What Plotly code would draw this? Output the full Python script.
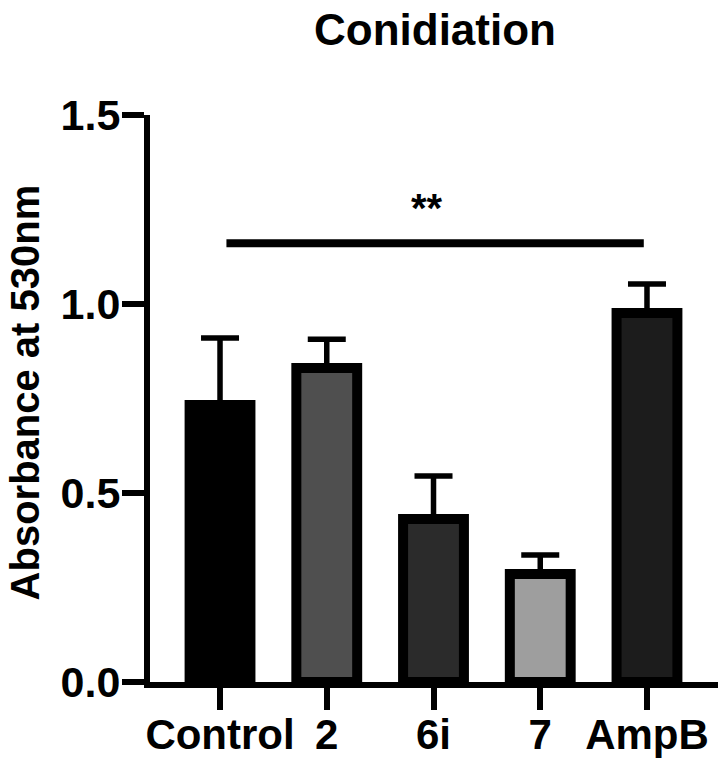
import plotly.graph_objects as go

categories = ["Control", "2", "6i", "7", "AmpB"]
means = [0.733, 0.831, 0.431, 0.286, 0.976]
errors = [0.177, 0.076, 0.114, 0.050, 0.077]
fill_colors = ["#000000", "#4f4f4f", "#2b2b2b", "#9e9e9e", "#1c1c1c"]
y_ticks = [0.0, 0.5, 1.0, 1.5]
y_tick_labels = ["0.0", "0.5", "1.0", "1.5"]
y_title = "Absorbance at 530nm"
sig_label = "**"
sig_level = 1.161

FONT = "Liberation Sans, Arial, sans-serif"

fig = go.Figure()
fig.add_trace(go.Bar(
    x=list(range(len(categories))),
    y=means,
    width=0.57,
    marker=dict(color=fill_colors, line=dict(color="#000000", width=10)),
    error_y=dict(type="data", array=errors, symmetric=False, arrayminus=[0]*len(errors),
                 color="#000000", thickness=5.5, width=19),
    showlegend=False,
))

# significance line
fig.add_shape(type="line", xref="x", yref="y", x0=0.06, x1=3.97, y0=sig_level, y1=sig_level,
              line=dict(color="#000000", width=8))
fig.add_annotation(x=1.94, y=sig_level + 0.094, xref="x", yref="y", text=sig_label,
                   showarrow=False, font=dict(family=FONT, size=40, color="#000000", weight="bold"),
                   yanchor="middle")

# y-axis title (as rotated text so it can sit close to the page edge)
fig.add_annotation(x=-0.2185, y=0.5115, xref="paper", yref="paper", text=y_title,
                   textangle=-90, showarrow=False, xanchor="center", yanchor="middle",
                   font=dict(family=FONT, size=40, color="#000000", weight="bold"))

# page body has an 8px default margin; figure sized to fill the remaining window
fig.update_layout(
    width=718, height=759,
    margin=dict(l=142, r=6, t=107, b=85, autoexpand=False),
    paper_bgcolor="white", plot_bgcolor="white",
    title=dict(text="Conidiation", x=0.5947, xanchor="center", y=0.972, yanchor="middle",
               font=dict(family=FONT, size=44, color="#000000", weight="bold")),
    bargap=0.4,
)
fig.update_xaxes(
    range=[-0.656, 4.684], automargin=False,
    tickmode="array", tickvals=list(range(len(categories))), ticktext=categories,
    showline=True, linecolor="#000000", linewidth=6,
    ticks="outside", ticklen=22, tickwidth=6, tickcolor="#000000",
    ticklabelstandoff=-11,
    showgrid=False, zeroline=False,
    tickfont=dict(family=FONT, size=42, color="#000000", weight="bold"),
)
fig.update_yaxes(
    range=[0, 1.5], automargin=False,
    tickmode="array", tickvals=y_ticks, ticktext=y_tick_labels,
    showline=True, linecolor="#000000", linewidth=6,
    ticks="outside", ticklen=22, tickwidth=6, tickcolor="#000000",
    ticklabelstandoff=-7,
    showgrid=False, zeroline=False,
    tickfont=dict(family=FONT, size=43, color="#000000", weight="bold"),
)

fig.write_html("out.html")
